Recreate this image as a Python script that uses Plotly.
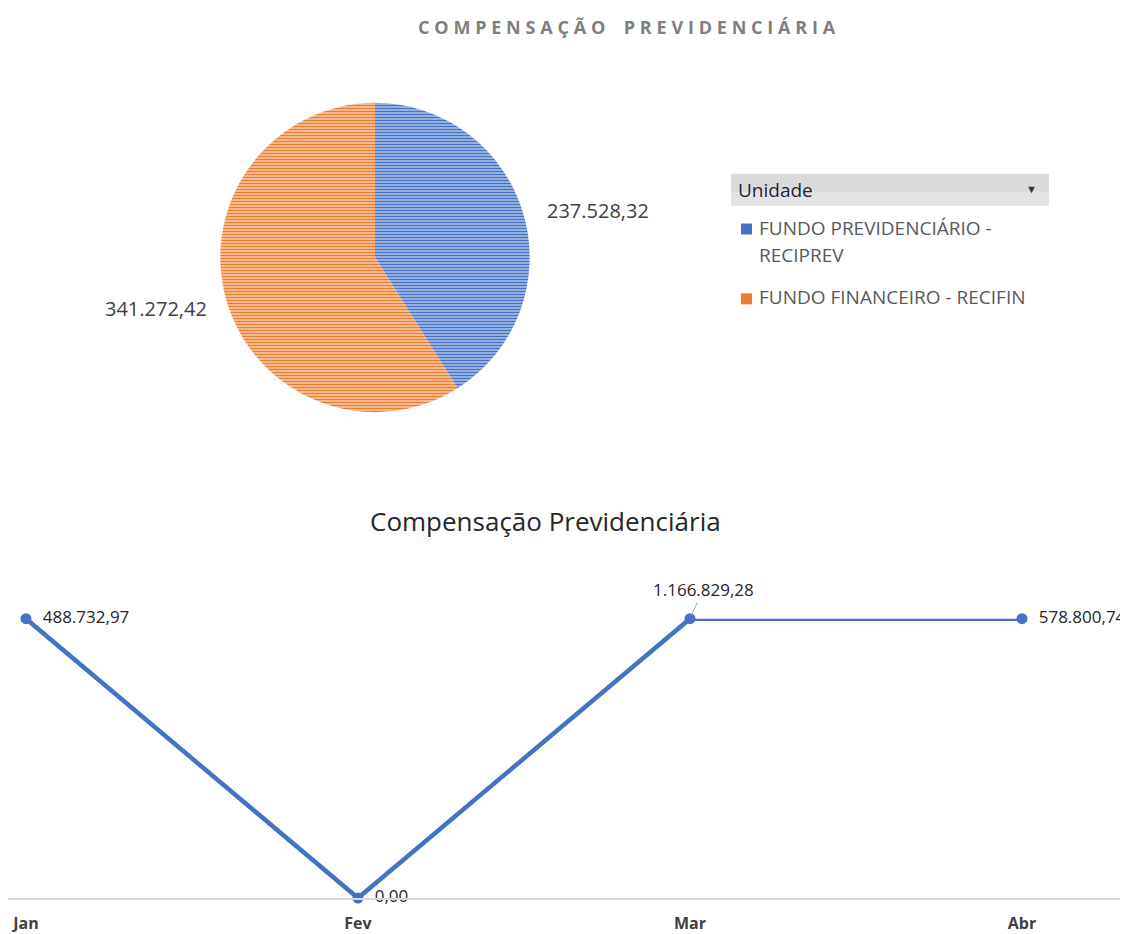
import numpy as np
import plotly.graph_objects as go

# Data
unidades = ["FUNDO PREVIDENCIÁRIO - RECIPREV", "FUNDO FINANCEIRO - RECIFIN"]
unidade_valores = [237528.32, 341272.42]
unidade_cores = ["#4472C4", "#ED7D31"]
unidade_cores_claras = ["#AFC2E8", "#F8CBAA"]

meses = ["Jan", "Fev", "Mar", "Abr"]
mes_valores = [488732.97, 0.00, 1166829.28, 578800.74]

# page is 1128x934, the html body adds an 8px margin
OFF = 8
W, H = 1128 - OFF, 934 - OFF


def br(v):
    return f"{v:,.2f}".replace(",", "X").replace(".", ",").replace("X", ".")


def px_x(x):
    return (x - OFF) / W


def px_y(y):
    return 1 - (y - OFF) / H


def note(x, y, text, size, color, xanchor="center", **kw):
    fig.add_annotation(x=px_x(x), y=px_y(y), xref="paper", yref="paper",
                       text=text, showarrow=False, xanchor=xanchor,
                       yanchor=kw.pop("yanchor", "middle"),
                       font=dict(size=size, color=color), **kw)


fig = go.Figure()

# Pie
fig.add_trace(go.Pie(
    labels=unidades,
    values=unidade_valores,
    sort=False,
    direction="clockwise",
    rotation=0,
    textinfo="none",
    marker=dict(colors=unidade_cores,
                line=dict(width=0),
                pattern=dict(shape="-", fgcolor=unidade_cores,
                             bgcolor=unidade_cores_claras, size=3, solidity=0.5)),
    domain=dict(x=[px_x(220), px_x(530)], y=[px_y(413), px_y(103)]),
    showlegend=False,
    hoverinfo="label+value",
))
note(545, 211, br(unidade_valores[0]), 20, "#404040", xanchor="left")
note(209, 309, br(unidade_valores[1]), 20, "#404040", xanchor="right")

# Line - the axis max is fixed at the January value, higher values sit at the top
y_max = mes_valores[0]
y_plot = list(np.minimum(mes_valores, y_max))
labels = [br(v) for v in mes_valores]
labels_line = ["\u00a0\u00a0" + t if m != "Mar" else "" for t, m in zip(labels, meses)]

fig.add_trace(go.Scatter(
    x=meses, y=y_plot, mode="lines+markers+text",
    text=labels_line, textposition="middle right",
    textfont=dict(size=17, color="#262626"),
    line=dict(color="#4472C4", width=4.5),
    marker=dict(color="#4472C4", size=11),
    cliponaxis=False, showlegend=False,
    xaxis="x", yaxis="y",
))

fig.add_annotation(
    x="Mar", y=y_plot[2], xref="x", yref="y",
    text=labels[2], showarrow=True, arrowhead=0, arrowwidth=1,
    arrowcolor="#a6a6a6", ax=13, ay=-29, standoff=4,
    font=dict(size=17, color="#262626"),
)

# Titles
titulo = "COMPENSAÇÃO PREVIDENCIÁRIA"
titulo_esp = "\u2009\u200a".join("\u2009\u2009\u2009" if c == " " else c for c in titulo)
note(627, 27, f"<b>{titulo_esp}</b>", 18, "#7f7f7f")
note(545, 522, "Compensação Previdenciária", 26, "#262626")

# Legend (slicer-like header)
fig.add_shape(type="rect", xref="paper", yref="paper",
              x0=px_x(731), x1=px_x(1049), y0=px_y(206), y1=px_y(174),
              line=dict(width=0), fillcolor="#dadada", layer="below")
fig.add_shape(type="rect", xref="paper", yref="paper",
              x0=px_x(731), x1=px_x(1049), y0=px_y(206), y1=px_y(192),
              line=dict(width=0), fillcolor="#e4e4e4", layer="below")
note(736, 190, "Unidade", 19, "#1f1f3f", xanchor="left")
note(1031, 189, "▼", 11, "#333333")

leg_lines = [["FUNDO PREVIDENCIÁRIO -", "RECIPREV"], ["FUNDO FINANCEIRO - RECIFIN"]]
leg_y = [228, 298]
for lines, y0, c in zip(leg_lines, leg_y, unidade_cores):
    for k, t in enumerate(lines):
        note(757, y0 + 28 * k, t, 19, "#595959", xanchor="left")
    fig.add_shape(type="rect", xref="paper", yref="paper",
                  x0=px_x(741), x1=px_x(752), y0=px_y(y0 + 7), y1=px_y(y0 - 4),
                  line=dict(width=0), fillcolor=c)

fig.update_layout(
    width=W, height=H,
    margin=dict(l=0, r=0, t=0, b=0),
    paper_bgcolor="white", plot_bgcolor="white",
    font=dict(family="Open Sans, Noto Sans, sans-serif"),
    xaxis=dict(domain=[0, 1], range=[(OFF - 26) / 332, (1128 - 26) / 332],
               showline=True, linecolor="#d9d9d9", linewidth=1.5,
               showgrid=False, zeroline=False, ticks="", ticklabelstandoff=10,
               tickfont=dict(size=16, color="#404040", weight="bold")),
    yaxis=dict(domain=[px_y(900), px_y(620)], range=[0, y_max],
               showgrid=False, zeroline=False, showticklabels=False,
               showline=False),
)

fig.write_html("out.html")
